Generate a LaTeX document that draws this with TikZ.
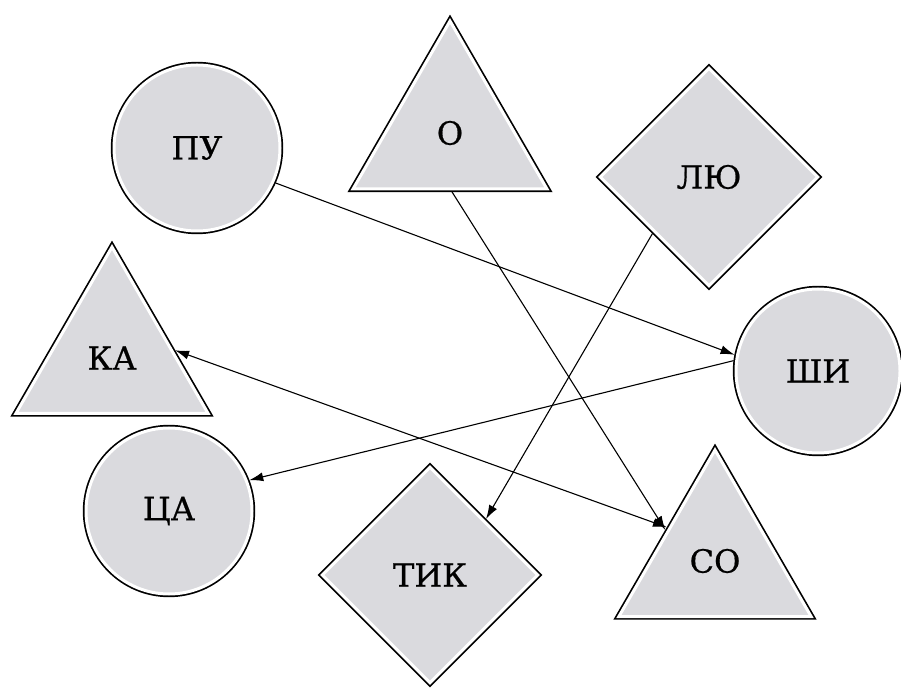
\documentclass[tikz,border=0pt]{standalone}
\usepackage{fontspec}
\newfontfamily\labelfont{DejaVu Serif}[UprightFeatures={FakeBold=0.6}]
\usetikzlibrary{shapes.geometric,arrows.meta}
\definecolor{shapegray}{RGB}{218,218,222}
\begin{document}
\begin{tikzpicture}[x=1pt,y=1pt,
  figure/.style={fill=shapegray, draw=white, line width=3pt, inner sep=0pt, outer sep=3pt,
    preaction={draw=black, line width=6.4pt}, font=\labelfont\fontsize{32}{38}\selectfont},
  round/.style={figure, circle, minimum size=#1},
  tri/.style={figure, regular polygon, regular polygon sides=3, minimum size=#1},
  dia/.style={figure, diamond, aspect=1, minimum size=#1},
  link/.style={line width=1.1pt, -{Latex[length=14pt,width=9pt]}}
]
\useasboundingbox (0,0) rectangle (901,688);
\node[round=166] (pu) at (197,540) {ПУ};
\node[round=166] (ca) at (169,177) {ЦА};
\node[round=164] (shi) at (818,317) {ШИ};
\node[tri=224] (o) at (450,555) {О};
\node[tri=222] (ka) at (112,330) {КА};
\node[tri=222] (so) at (715,127) {СО};
\node[dia=220] (lu) at (709,511) {ЛЮ};
\node[dia=218] (tik) at (430,113) {ТИК};
\draw[link] (pu.-24) -- (shi.169);
\draw[link] (shi.173) -- (ca.21);
\draw[link] (o.-88) -- (so.148);
\draw[link] (lu.-135) -- (tik.45);
\draw[link, {Latex[length=14pt,width=9pt]}-{Latex[length=14pt,width=9pt]}] (ka.7) -- (so.145);
\end{tikzpicture}
\end{document}
